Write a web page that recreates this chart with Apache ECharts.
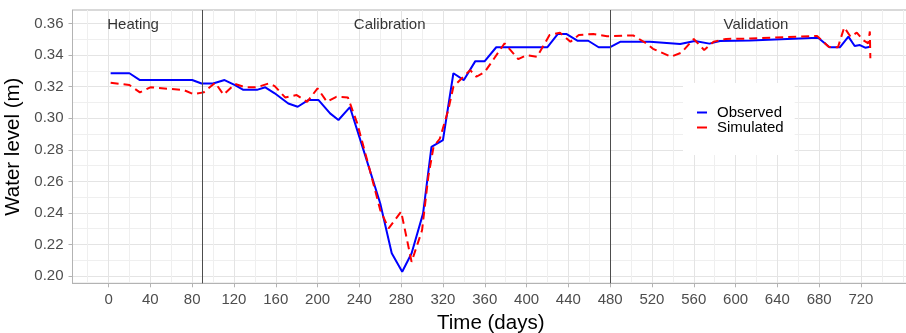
<!DOCTYPE html>
<html>
<head>
<meta charset="utf-8">
<script src="https://cdn.jsdelivr.net/npm/echarts@6/dist/echarts.min.js"></script>
<style>
  html, body { margin: 0; padding: 0; background: #fff; }
  #chart { width: 906px; height: 333px; }
</style>
</head>
<body>
<div id="chart"></div>
<script>
// observed water level
const obsDays = [2, 20, 30, 80, 89, 100, 111, 121, 129, 142, 150, 159, 172, 181, 191, 201, 212, 220, 231,
  244, 260, 271, 281, 290, 301, 309, 320, 330, 340, 351, 360, 371, 420, 430, 438, 449, 459, 469, 480,
  490, 518, 547, 561, 575, 585, 614, 679, 690, 700, 708, 714, 719, 724, 729];
const obsLevel = [0.3285, 0.3285, 0.3242, 0.3242, 0.322, 0.322, 0.3242, 0.321, 0.318, 0.318, 0.3196, 0.3158,
  0.3093, 0.3073, 0.3115, 0.3115, 0.3031, 0.2989, 0.307, 0.2798, 0.246, 0.2144, 0.2027, 0.2144, 0.2397,
  0.2819, 0.2862, 0.3285, 0.3242, 0.3362, 0.3362, 0.345, 0.345, 0.3534, 0.3534, 0.3491, 0.3491, 0.345,
  0.345, 0.3485, 0.3485, 0.347, 0.349, 0.3473, 0.349, 0.3493, 0.351, 0.345, 0.345, 0.3517, 0.3458,
  0.3464, 0.3447, 0.3453];

// simulated water level
const simDays = [2, 20, 30, 40, 72, 81, 91, 102, 110, 121, 131, 142, 153, 159, 169, 180, 190, 200, 209, 218,
  229, 238, 250, 260, 268, 280, 285, 290, 300, 306, 311, 317, 325, 330, 346, 352, 360, 379, 392, 400,
  410, 422, 432, 442, 450, 464, 477, 502, 515, 521, 538, 548, 560, 570, 579, 591, 614, 678, 689, 698,
  704, 710, 716, 722, 727, 728.5, 729];
const simLevel = [0.3225, 0.321, 0.3164, 0.3196, 0.3179, 0.3153, 0.3164, 0.3225, 0.315, 0.3217, 0.3196,
  0.3196, 0.322, 0.3204, 0.3132, 0.3147, 0.3104, 0.3189, 0.3104, 0.3136, 0.3132, 0.2967, 0.2672, 0.2418,
  0.2302, 0.2408, 0.2249, 0.209, 0.229, 0.263, 0.2819, 0.287, 0.305, 0.32, 0.3305, 0.3263, 0.3293,
  0.3475, 0.3375, 0.34, 0.339, 0.3527, 0.3542, 0.3485, 0.3527, 0.3534, 0.352, 0.3525, 0.3473, 0.344,
  0.339, 0.3415, 0.3502, 0.3432, 0.3485, 0.3503, 0.3505, 0.3522, 0.3453, 0.345, 0.3576, 0.3517, 0.3543,
  0.3496, 0.3475, 0.355, 0.338];

// phases
const phaseBounds = [90, 480];
const phaseNames = ['Heating', 'Calibration', 'Validation'];
const phaseNameDays = [23.5, 269, 619.5];
const phaseNameLevel = 0.359;

// ticks
const xTicks = [0, 40, 80, 120, 160, 200, 240, 280, 320, 360, 400, 440, 480, 520, 560, 600, 640, 680, 720];
const xMinor = [-20, 20, 60, 100, 140, 180, 220, 260, 300, 340, 380, 420, 460, 500, 540, 580, 620, 660, 700, 740, 760];
const yTicks = [0.20, 0.22, 0.24, 0.26, 0.28, 0.30, 0.32, 0.34, 0.36];
const yMinor = [0.21, 0.23, 0.25, 0.27, 0.29, 0.31, 0.33, 0.35];

const FONT = 'Liberation Sans, Arial, sans-serif';
const xMin = -34.5, xMax = 766;
const yMin = 0.1954, yMax = 0.3686;

const chart = echarts.init(document.getElementById('chart'));

const minorAxis = (min, max, values) => ({
  type: 'value',
  min: min,
  max: max,
  axisLine: { show: false, onZero: false },
  axisLabel: { show: false },
  axisTick: { show: false, customValues: values },
  splitLine: { show: true, lineStyle: { color: '#efefef', width: 1 } },
});

chart.setOption({
  animation: false,
  textStyle: { fontFamily: FONT },
  grid: {
    left: 72.5,
    top: 10,
    width: (xMax - xMin) * 1.045,
    height: 273.3,
    outerBoundsMode: 'none',
    containLabel: false,
    show: true,
    borderColor: '#b3b3b3',
    borderWidth: 1,
    backgroundColor: 'transparent',
  },
  legend: {
    data: [
      { name: 'Observed', icon: 'rect', itemStyle: { color: '#0000ff' } },
      { name: 'Simulated', icon: 'rect', itemStyle: { color: '#ff0000' } },
    ],
    orient: 'vertical',
    left: 683,
    top: 83,
    padding: [22, 11, 20, 14],
    backgroundColor: '#fff',
    itemWidth: 10,
    itemHeight: 2,
    itemGap: 0,
    textStyle: { fontFamily: FONT, fontSize: 15, color: '#000', lineHeight: 15, padding: [0, 0, 0, 5] },
  },
  xAxis: [
    {
      type: 'value',
      min: xMin,
      max: xMax,
      name: 'Time (days)',
      nameLocation: 'middle',
      nameGap: 30,
      nameTextStyle: { fontFamily: FONT, fontSize: 20.5, color: '#000' },
      axisLine: { show: true, onZero: false, lineStyle: { color: '#b3b3b3' } },
      axisTick: { show: true, length: 4, customValues: xTicks, lineStyle: { color: '#b3b3b3' } },
      axisLabel: { customValues: xTicks, fontSize: 15, color: '#4d4d4d', margin: 9 },
      splitLine: { show: true, lineStyle: { color: '#e4e4e4', width: 1 } },
    },
    minorAxis(xMin, xMax, xMinor),
  ],
  yAxis: [
    {
      type: 'value',
      min: yMin,
      max: yMax,
      name: 'Water level (m)',
      nameLocation: 'middle',
      nameGap: 46,
      nameTextStyle: { fontFamily: FONT, fontSize: 20.5, color: '#000' },
      axisLine: { show: true, onZero: false, lineStyle: { color: '#b3b3b3' } },
      axisTick: { show: true, length: 4, customValues: yTicks, lineStyle: { color: '#b3b3b3' } },
      axisLabel: {
        customValues: yTicks,
        fontSize: 15,
        color: '#4d4d4d',
        margin: 9,
        formatter: (v) => v.toFixed(2),
      },
      splitLine: { show: true, lineStyle: { color: '#e4e4e4', width: 1 } },
    },
    minorAxis(yMin, yMax, yMinor),
  ],
  series: [
    {
      name: 'Observed',
      type: 'line',
      data: obsDays.map((d, i) => [d, obsLevel[i]]),
      symbol: 'none',
      lineStyle: { color: '#0000ff', width: 2 },
      itemStyle: { color: '#0000ff' },
      z: 3,
      markLine: {
        silent: true,
        symbol: 'none',
        label: { show: false },
        lineStyle: { color: '#4d4d4d', width: 1, type: 'solid' },
        data: phaseBounds.map((d) => ({ xAxis: d })),
      },
    },
    {
      name: 'Simulated',
      type: 'line',
      data: simDays.map((d, i) => [d, simLevel[i]]),
      symbol: 'none',
      lineStyle: { color: '#ff0000', width: 2, type: [8, 5] },
      itemStyle: { color: '#ff0000' },
      z: 4,
    },
    {
      name: 'phases',
      type: 'scatter',
      silent: true,
      symbolSize: 0,
      data: phaseNames.map((n, i) => ({ value: [phaseNameDays[i], phaseNameLevel], name: n })),
      label: {
        show: true,
        position: 'inside',
        formatter: (p) => p.name,
        fontFamily: FONT,
        fontSize: 15,
        color: '#000',
      },
    },
  ],
});
</script>
</body>
</html>
